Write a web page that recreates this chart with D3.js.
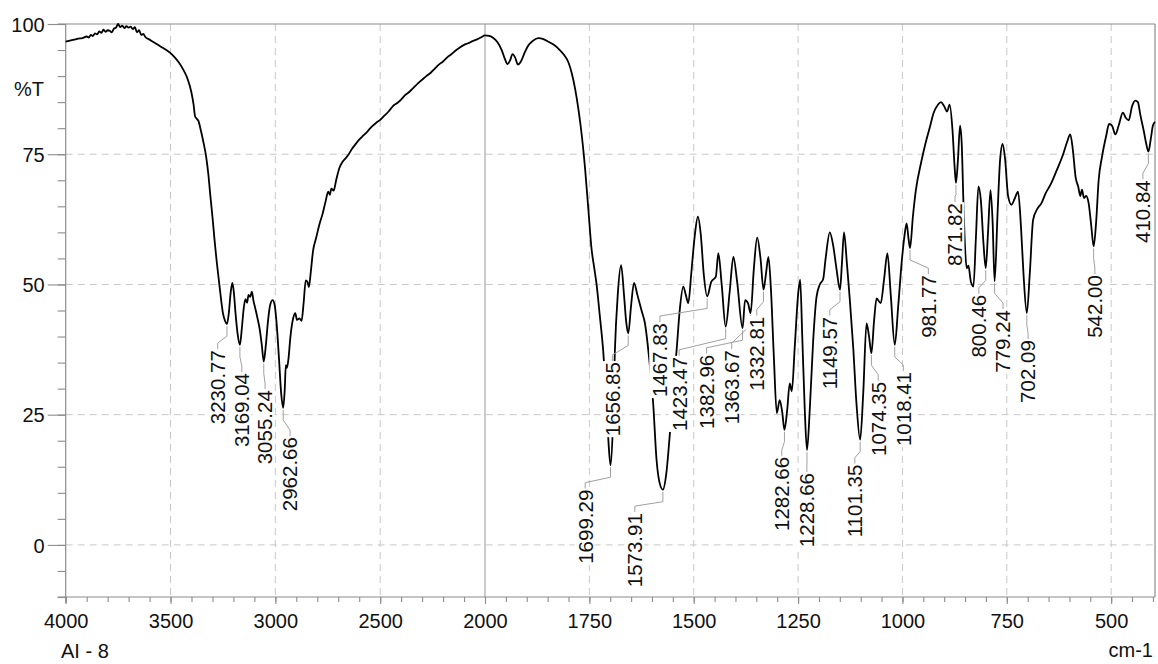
<!DOCTYPE html>
<html><head><meta charset="utf-8">
<script src="https://cdn.jsdelivr.net/npm/d3@7"></script>
<style>
body{margin:0;background:#fff}
svg{display:block}
text{font-family:"Liberation Sans",Arial,Helvetica,sans-serif;fill:#111}
</style>
</head><body>
<svg id="chart" width="1158" height="664"></svg>
<script>
// ---------- DATA ----------
const wavenumbers = [
4000,3980,3960,3940,3920,3900,3890,3880,3870,3860,3850,3840,3830,3820,3810,3800,3790,3780,3770,3760,3750,3740,3730,3720,3710,3700,3690,3680,3670,3660,3650,3640,3630,3620,3600,3580,3560,3540,3520,3500,3480,3460,3440,3420,3400,3390,3383,3375,3367,3355,3344,3330,3320,3310,3300,3290,3280,3270,3260,3250,3240,3230.77,3222,3213,3205,3198,3190,3180,3169.04,3160,3152,3143,3135,3128,3120,3112,3104,3095,3085,3075,3065,3055.24,3045,3035,3025,3013,3003,2993,2983,2972,2962.66,2955,2950,2945,2938,2928,2915,2905,2897,2885,2875,2865,2855,2847,2840,2832,2820,2805,2790,2775,2760,2748,2740,2733,2722,2710,2695,2680,2665,2650,2635,2620,2600,2580,2560,2540,2520,2500,2480,2460,2440,2420,2400,2380,2360,2340,2320,2300,2280,2260,2240,2220,2200,2180,2160,2140,2120,2100,2080,2060,2040,2020,2000,
1990,1980,1970,1960,1952,1946,1940,1934,1928,1921,1914,1905,1895,1885,1872,1860,1848,1835,1822,1810,1800,1792,1784,1776,1768,1760,1752,1745,1738,1733,1725,1717,1710,1704,1699.29,1694,1689,1682,1674,1667,1662,1656.85,1650,1643,1635,1625,1617,1607,1597,1589,1582,1573.91,1566,1557,1549,1541,1533,1525,1519,1513,1506,1498,1490,1483,1476,1467.83,1458,1447,1441,1433,1423.47,1414,1405,1396,1382.96,1377,1370,1363.67,1356,1348,1340,1332.81,1327,1321,1315,1308,1301,1294,1288,1282.66,1276,1270,1265,1258,1250,1245,1240,1234,1228.66,1222,1214,1206,1198,1190,1184,1174,1166,1158,1149.57,1145,1140,1133,1126,1118,1110,1101.35,1094,1086,1080,1074.35,1068,1062,1052,1044,1036,1028,1018.41,1010,1002,994,990,985,981.77,975,968,955,945,935,925,915,908,900,893,887,880,875,871.82,867,862,858,854,850,846,842,836,830,824,818,812,806,800.46,795,789,784,779.24,772,766,760,754,747,739,731,723,716,710,702.09,695,687,677,667,657,645,630,615,605,598,592,585,579,574,570,565,560,554,548,542,536,530,522,512,505,498,490,482,472,465,458,450,442,436,430,422,416,410.84,405,400,395
];
const transmittance = [
96.6,96.8,97.0,97.2,97.3,97.6,97.4,97.9,97.7,98.2,98.0,98.6,98.3,98.9,98.5,98.8,98.7,98.4,99.1,99.3,100.0,99.4,99.7,99.2,99.6,99.3,99.5,99.0,99.4,98.4,98.8,97.9,98.1,97.5,97.0,96.5,96.0,95.5,95.0,94.4,93.6,92.6,91.3,89.6,86.8,84.5,82.3,81.8,81.4,79.5,77.5,74.5,71.3,67,63,58.5,54.5,51,47.5,44.5,43.0,42.4,44.5,48.5,50.3,48.5,44.5,40.5,38.4,41.5,45,47.2,46.5,48.0,47.6,48.6,46.8,45.3,43.5,41.5,38.5,35.2,38.5,43,46,47.0,46.0,42,36,29,26.3,30,34.5,34,35.5,40,43.5,44.5,43.2,43.5,43,46.5,50.8,50.5,49.5,52,56.5,59,61.5,63.5,66,67.8,67.2,68.4,68.0,70,72.3,73.5,74.2,75.0,76.0,76.8,77.8,78.6,79.4,80.3,81.0,81.6,82.4,83.2,84.2,84.8,85.5,86.4,87.0,87.8,88.6,89.3,90.0,90.6,91.4,92.2,92.8,93.6,94.2,94.9,95.5,96.0,96.3,96.7,97.0,97.4,97.8,
97.7,97.3,96.5,95.0,93.2,92.3,93.0,94.2,93.6,92.2,92.8,94.5,96.0,96.8,97.3,97.1,96.6,96.0,95.1,94.0,92.6,90.5,87.5,83.5,78.5,72,64,57,53,50.2,44,37.4,29,19.5,15.3,22,37,48,53.7,48,43,40.6,46,50.3,48,45,42.6,36,27,16.3,12,10.6,13.5,21.5,30,37.4,45.5,49.6,48,46.4,52,59,63,59.5,52,47.7,50.5,51.5,56,50,41.9,48.5,55.3,50.5,41.6,47,46.4,44.5,53,59,55,49,52,55.3,49,36,25.3,27.8,25.5,22.1,26,31,29.5,38,48,50.9,40,26,18.2,26,39,47.5,50,51,55,60,57.5,53,49,54,60,54,47,38,27,20.2,29,42.5,40,36.8,43,47.3,46.4,51,56,48,38.4,46,54.1,60,61.7,58.5,57,63,68,73.5,77,80,83,84.5,85,84.2,83.2,84.5,79.5,72.5,69.5,74,80.5,77,66,57,53.1,53.6,50.5,49.6,59,68.8,66,58,53.1,60,68.1,62,50.6,64,74,77,74,67,65.3,66.5,67.8,61,52,44.5,52,62.4,64.5,65.6,67.5,69.2,72,75,77.5,78.8,76,70.5,68.8,67,68.2,66.6,67,65.6,61.5,57.3,62,70,74.5,78.5,80.8,80.5,78.8,80.5,83,82,81.5,84.2,85.3,85,82.5,79.5,77,75.5,78,80.5,81.2
];
const peakLabels = ["3230.77","3169.04","3055.24","2962.66","1699.29","1656.85","1573.91","1467.83","1423.47","1382.96","1363.67","1332.81","1282.66","1228.66","1149.57","1101.35","1074.35","1018.41","981.77","871.82","800.46","779.24","702.09","542.00","410.84"];
const peakWavenumbers = [3230.77,3169.04,3055.24,2962.66,1699.29,1656.85,1573.91,1467.83,1423.47,1382.96,1363.67,1332.81,1282.66,1228.66,1149.57,1101.35,1074.35,1018.41,981.77,871.82,800.46,779.24,702.09,542.00,410.84];
// label column placement in data units (cm-1, %T of label top)
const labelWavenumbers = [3275,3160,3049,2930,1760,1695,1641,1581,1535,1469,1409,1349,1289,1229,1174,1114,1058,998,938,874,817,759,699,539,424];
const labelTops = [37.4,33.0,29.7,20.7,10.6,35.1,6.1,42.6,36.1,36.5,37.4,43.8,16.9,13.8,43.8,15.4,31.3,33.2,51.8,65.6,48.0,45.1,39.3,51.8,70.0];
const xMajorTicks = [4000,3500,3000,2500,2000,1750,1500,1250,1000,750,500];
const xGridTicks = [3500,3000,2500,1750,1500,1250,1000,750,500];
const yMajorTicks = [0,25,50,75,100];
const yGridTicks = [0,25,50,75];
const yLabelText = "%T";
const xUnitText = "cm-1";
const sampleName = "AI - 8";

// ---------- SCALES ----------
const svg = d3.select("#chart");
const x = d3.scaleLinear().domain([4000, 2000, 395]).range([65.7, 485, 1155]);
const y = d3.scaleLinear().domain([-10, 100]).range([597, 24]);
const pL = x(4000), pR = x(395), pT = y(100), pB = y(-10);

const axisCol = "#8c8c8c";
const gridCol = "#c8c8c8";

// grid
const g = svg.append("g");
g.selectAll(".vg").data(xGridTicks).join("line")
  .attr("x1", d => x(d)).attr("x2", d => x(d)).attr("y1", pT).attr("y2", pB)
  .attr("stroke", gridCol).attr("stroke-width", 1).attr("stroke-dasharray", "7,5");
g.selectAll(".hg").data(yGridTicks).join("line")
  .attr("x1", pL).attr("x2", pR).attr("y1", d => y(d)).attr("y2", d => y(d))
  .attr("stroke", gridCol).attr("stroke-width", 1).attr("stroke-dasharray", "7,5");
g.append("line").attr("x1", x(2000)).attr("x2", x(2000)).attr("y1", pT).attr("y2", pB)
  .attr("stroke", "#a8a8a8").attr("stroke-width", 1.2);
g.append("line").attr("x1", pL - 8).attr("x2", pR).attr("y1", pT).attr("y2", pT).attr("stroke", axisCol).attr("stroke-width", 1.2);
g.append("line").attr("x1", pR).attr("x2", pR).attr("y1", pT).attr("y2", pB).attr("stroke", axisCol).attr("stroke-width", 1.2);

// ---------- AXES ----------
const xMinor = d3.range(4000, 2000, -100).concat(d3.range(2000, 390, -50));
const yMinor = d3.range(-10, 101, 5);

const xAxisMinor = d3.axisBottom(x).tickValues(xMinor).tickSize(5).tickFormat("");
const xAxisMajor = d3.axisBottom(x).tickValues(xMajorTicks).tickSize(7).tickPadding(10).tickFormat(d3.format("d"));
const yAxisMinor = d3.axisLeft(y).tickValues(yMinor).tickSize(8).tickFormat("");
const yAxisMajor = d3.axisLeft(y).tickValues(yMajorTicks).tickSize(18).tickPadding(3).tickFormat(d3.format("d"));

function styleAxis(sel){
  sel.select(".domain").remove();
  sel.selectAll("line").attr("stroke", axisCol).attr("stroke-width", 1.1);
  sel.selectAll("text").attr("font-size", 20).attr("fill", "#111")
     .attr("font-family", '"Liberation Sans",Arial,sans-serif');
}
svg.append("g").attr("transform", `translate(0,${pB})`).call(xAxisMinor).call(styleAxis);
svg.append("g").attr("transform", `translate(0,${pB})`).call(xAxisMajor).call(styleAxis);
svg.append("g").attr("transform", `translate(${pL},0)`).call(yAxisMinor).call(styleAxis);
svg.append("g").attr("transform", `translate(${pL},0)`).call(yAxisMajor).call(styleAxis)
   .selectAll("text").attr("dy", "0.36em");
svg.append("line").attr("x1", pL - 8).attr("x2", pR).attr("y1", pB).attr("y2", pB).attr("stroke", axisCol).attr("stroke-width", 1.2);
svg.append("line").attr("x1", pL).attr("x2", pL).attr("y1", pT).attr("y2", pB + 6).attr("stroke", axisCol).attr("stroke-width", 1.2);

svg.append("text").attr("x", 44).attr("y", y(87.5)).attr("dy", "0.36em").attr("text-anchor", "end")
  .attr("font-size", 20).text(yLabelText);
svg.append("text").attr("x", pR - 2).attr("y", 657).attr("text-anchor", "end")
  .attr("font-size", 20).text(xUnitText);
svg.append("text").attr("x", 61).attr("y", 658).attr("text-anchor", "start")
  .attr("font-size", 20).text(sampleName);

// ---------- SPECTRUM ----------
const pts = wavenumbers.map((w, i) => [w, transmittance[i]]);
const line = d3.line().x(d => x(d[0])).y(d => y(d[1])).curve(d3.curveMonotoneX);
svg.append("path").datum(pts).attr("d", line)
  .attr("fill", "none").attr("stroke", "#000").attr("stroke-width", 1.8).attr("stroke-linejoin", "round");

// ---------- PEAK LABELS ----------
function tAt(w){
  let best = 0, bd = Infinity;
  wavenumbers.forEach((v, i) => { const d = Math.abs(v - w); if (d < bd){ bd = d; best = i; } });
  return transmittance[best];
}
const leaders = svg.append("g");
const labels = svg.append("g");
peakLabels.forEach((lab, i) => {
  const px = x(peakWavenumbers[i]), py = y(tAt(peakWavenumbers[i]));
  const lx = x(labelWavenumbers[i]), ly = y(labelTops[i]);
  const path = d3.path();
  path.moveTo(px, py + 2);
  path.lineTo(px, Math.min(py + 12, ly - 6));
  path.lineTo(lx, ly - 7);
  path.lineTo(lx, ly - 1);
  leaders.append("path").attr("d", path.toString())
    .attr("fill", "none").attr("stroke", "#a0a0a0").attr("stroke-width", 1);
  const gg = labels.append("g").attr("transform", `translate(${lx},${ly}) rotate(-90)`);
  const t = gg.append("text").attr("x", 0).attr("y", 0).attr("dy", "0.36em")
    .attr("text-anchor", "end").attr("font-size", 20.5).text(lab);
  const bb = t.node().getBBox();
  gg.insert("rect", "text").attr("x", bb.x - 1).attr("y", bb.y + 1).attr("width", bb.width + 2).attr("height", bb.height - 3)
    .attr("fill", "#fff");
});
</script>
</body></html>
